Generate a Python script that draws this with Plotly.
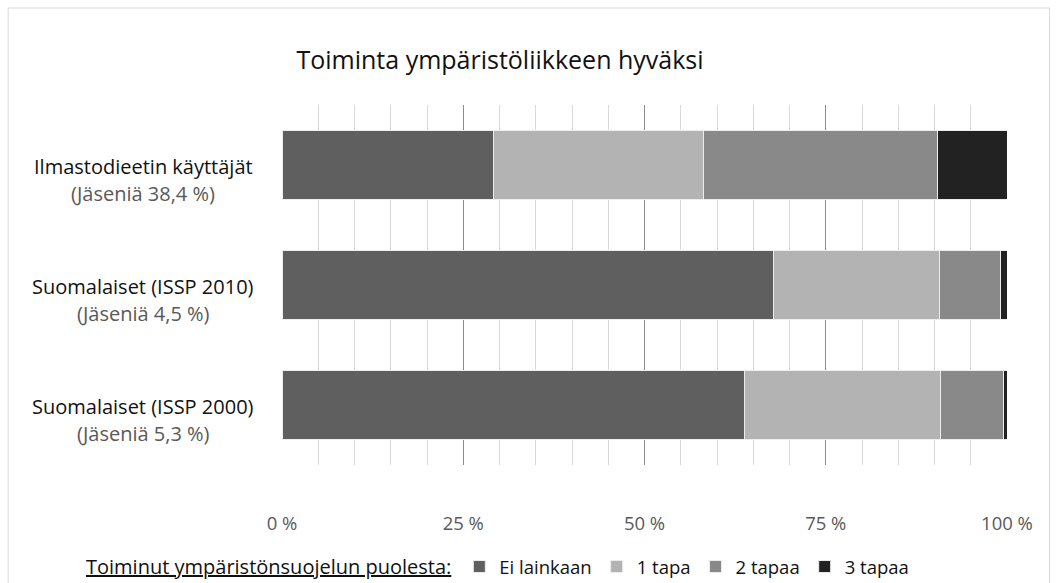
import plotly.graph_objects as go

categories = ["Ilmastodieetin käyttäjät", "Suomalaiset (ISSP 2010)", "Suomalaiset (ISSP 2000)"]
members = ["(Jäseniä 38,4 %)", "(Jäseniä 4,5 %)", "(Jäseniä 5,3 %)"]
series_names = ["Ei lainkaan", "1 tapa", "2 tapaa", "3 tapaa"]
ei_lainkaan = [29.2, 67.8, 63.8]
yksi_tapa = [29.0, 22.9, 27.0]
kaksi_tapaa = [32.2, 8.4, 8.7]
kolme_tapaa = [9.6, 0.9, 0.5]
colors = ["#5f5f5f", "#b3b3b3", "#898989", "#222222"]
tick_vals = [0, 25, 50, 75, 100]
tick_text = ["0 %", "25 %", "50 %", "75 %", "100 %"]

FONT = "Open Sans"
W, H = 1059, 583
L, R, T, B = 282, 51.5, 105, 118
pw, ph = W - L - R, H - T - B

fig = go.Figure()
for name, vals, col in zip(series_names, [ei_lainkaan, yksi_tapa, kaksi_tapaa, kolme_tapaa], colors):
    fig.add_trace(go.Bar(
        y=categories, x=vals, name=name, orientation="h",
        marker=dict(color=col, line=dict(color="#ececec", width=1)),
    ))

annotations = []
for cat, mem in zip(categories, members):
    annotations.append(dict(
        x=(143 - L) / pw, xref="paper", y=cat, yref="y", text=cat,
        showarrow=False, xanchor="center", yanchor="middle", yshift=-1,
        font=dict(family=FONT, size=20, color="#111111"),
    ))
    annotations.append(dict(
        x=(143 - L) / pw, xref="paper", y=cat, yref="y", text=mem,
        showarrow=False, xanchor="center", yanchor="middle", yshift=-28,
        font=dict(family=FONT, size=20, color="#595959"),
    ))

fig.update_layout(
    width=W, height=H,
    margin=dict(l=L, r=R, t=T, b=B),
    barmode="stack",
    bargap=0.433,
    plot_bgcolor="white", paper_bgcolor="white",
    title=dict(text="Toiminta ympäristöliikkeen hyväksi", x=500 / W, xref="container",
               xanchor="center", y=1 - 60 / H, yref="container", yanchor="middle",
               font=dict(family=FONT, size=25, color="#111111")),
    xaxis=dict(range=[0, 100], tickvals=tick_vals, ticktext=tick_text,
               showgrid=True, gridcolor="#8c8c8c", gridwidth=1,
               minor=dict(dtick=5, tick0=0, showgrid=True, gridcolor="#d9d9d9", gridwidth=1),
               zeroline=False, showline=False, ticks="",
               ticklabelstandoff=45,
               tickfont=dict(family=FONT, size=18.5, color="#595959")),
    yaxis=dict(showticklabels=False, autorange="reversed", showgrid=False, zeroline=False),
    legend=dict(orientation="h", xref="container", yref="container",
                x=84 / W, y=1 - 567 / H, xanchor="left", yanchor="middle",
                title=dict(text="<u>Toiminut ympäristönsuojelun puolesta:</u>", side="left",
                           font=dict(family=FONT, size=20, color="#111111")),
                font=dict(family=FONT, size=18.5, color="#111111"),
                traceorder="normal", itemclick=False),
    annotations=annotations,
    shapes=[dict(type="rect", xref="paper", yref="paper",
                 x0=(8 - L) / pw, x1=(1050 - L) / pw,
                 y0=(H - B - 600) / ph, y1=(H - B - 8) / ph,
                 line=dict(color="#d9d9d9", width=1), fillcolor="rgba(0,0,0,0)", layer="below")],
)

fig.write_html("out.html", config={"displayModeBar": False},
               post_script="document.body.style.margin='0';document.body.style.overflow='hidden';")
